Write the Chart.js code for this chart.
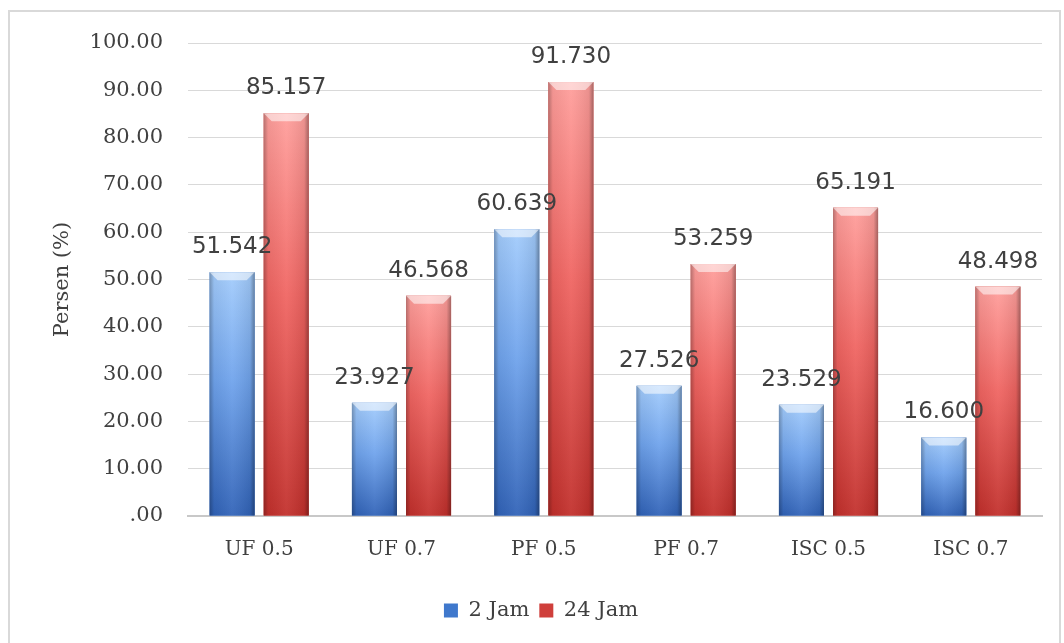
<!DOCTYPE html>
<html>
<head>
<meta charset="utf-8">
<script src="https://cdn.jsdelivr.net/npm/chart.js@4/dist/chart.umd.min.js"></script>
<style>
  html, body { margin: 0; padding: 0; background: #fff; overflow: hidden; }
  #frame { position: absolute; left: 8px; top: 10px; width: 1053px; height: 660px; border: 2px solid #d9d9d9; box-sizing: border-box; }
  #wrap { position: absolute; left: 0; top: 0; width: 1064px; height: 643px; }
</style>
</head>
<body>
<div id="frame"></div>
<div id="wrap"><canvas id="grafico"></canvas></div>
<script>
// categorias y series
const kategori = ['UF 0.5', 'UF 0.7', 'PF 0.5', 'PF 0.7', 'ISC 0.5', 'ISC 0.7'];
const jam2 = [51.542, 23.927, 60.639, 27.526, 23.529, 16.600];
const jam24 = [85.157, 46.568, 91.730, 53.259, 65.191, 48.498];
const labelSeri = ['2 Jam', '24 Jam'];

// colores de cada serie: claro arriba, oscuro abajo
const warna = [
  { top: '#a3ccfc', mid: '#6fa3ec', bot: '#3163b8', solid: '#3f78cc' },
  { top: '#ff9f9c', mid: '#f06562', bot: '#c2302c', solid: '#cf3f3b' }
];

const serif = '"DejaVu Serif", "Liberation Serif", serif';
const sans = '"DejaVu Sans", "Liberation Sans", sans-serif';

// pinta las barras con degradado y bisel
const barras3d = {
  id: 'barras3d',
  afterDatasetsDraw(chart) {
    const ctx = chart.ctx;
    chart.data.datasets.forEach((ds, i) => {
      const meta = chart.getDatasetMeta(i);
      const c = warna[i];
      meta.data.forEach(el => {
        const x0 = el.x - el.width / 2, x1 = el.x + el.width / 2;
        const y0 = el.y, y1 = el.base;
        const w = x1 - x0;
        ctx.save();
        let g = ctx.createLinearGradient(0, y0, 0, y1);
        g.addColorStop(0, c.top);
        g.addColorStop(0.45, c.mid);
        g.addColorStop(1, c.bot);
        ctx.fillStyle = g;
        ctx.fillRect(x0, y0, w, y1 - y0);
        // sombra lateral
        let h = ctx.createLinearGradient(x0, 0, x1, 0);
        h.addColorStop(0, 'rgba(0,0,0,0.28)');
        h.addColorStop(0.1, 'rgba(0,0,0,0.05)');
        h.addColorStop(0.5, 'rgba(255,255,255,0.06)');
        h.addColorStop(0.9, 'rgba(0,0,0,0.08)');
        h.addColorStop(1, 'rgba(0,0,0,0.35)');
        ctx.fillStyle = h;
        ctx.fillRect(x0, y0, w, y1 - y0);
        // bisel superior
        const b = Math.min(8, (y1 - y0) / 2);
        ctx.beginPath();
        ctx.moveTo(x0, y0);
        ctx.lineTo(x1, y0);
        ctx.lineTo(x1 - b, y0 + b);
        ctx.lineTo(x0 + b, y0 + b);
        ctx.closePath();
        ctx.fillStyle = 'rgba(255,255,255,0.55)';
        ctx.fill();
        ctx.restore();
      });
    });
  }
};

// etiqueta de valor sobre cada barra
const etiquetaNilai = {
  id: 'etiquetaNilai',
  afterDatasetsDraw(chart) {
    const ctx = chart.ctx;
    ctx.save();
    ctx.font = '23px ' + sans;
    ctx.fillStyle = '#404040';
    ctx.textAlign = 'center';
    ctx.textBaseline = 'alphabetic';
    chart.data.datasets.forEach((ds, i) => {
      chart.getDatasetMeta(i).data.forEach((el, j) => {
        ctx.fillText(ds.data[j].toFixed(3), el.x, el.y - 19);
      });
    });
    ctx.restore();
  }
};

new Chart(document.getElementById('grafico'), {
  type: 'bar',
  data: {
    labels: kategori,
    datasets: [
      { label: labelSeri[0], data: jam2, backgroundColor: warna[0].solid, borderWidth: 0 },
      { label: labelSeri[1], data: jam24, backgroundColor: warna[1].solid, borderWidth: 0 }
    ]
  },
  options: {
    responsive: true,
    maintainAspectRatio: false,
    animation: false,
    datasets: { bar: { categoryPercentage: 0.76, barPercentage: 0.833 } },
    layout: { padding: { left: 40, right: 22, top: 43, bottom: 12 } },
    plugins: {
      tooltip: { enabled: false },
      legend: {
        position: 'bottom',
        labels: {
          boxWidth: 14, boxHeight: 14, padding: 10,
          color: '#404040',
          font: { family: serif, size: 21 }
        }
      }
    },
    scales: {
      x: {
        grid: { display: false, drawTicks: false },
        border: { display: true, color: '#c8c8c8', width: 2 },
        ticks: { color: '#404040', padding: 22, font: { family: serif, size: 20 } },
        afterFit(s) { s.height = 74; }
      },
      y: {
        min: 0, max: 100,
        grid: { color: '#d9d9d9', lineWidth: 1, drawTicks: false },
        border: { display: false },
        ticks: {
          stepSize: 10, padding: 25, color: '#404040',
          font: { family: serif, size: 21 },
          callback: v => v === 0 ? '.00' : v.toFixed(2)
        },
        title: {
          display: true, text: 'Persen (%)', color: '#404040',
          font: { family: serif, size: 21 },
          padding: { top: 10, bottom: 0 }
        },
        afterFit(s) { s.width = 148; }
      }
    }
  },
  plugins: [barras3d, etiquetaNilai]
});
</script>
</body>
</html>
